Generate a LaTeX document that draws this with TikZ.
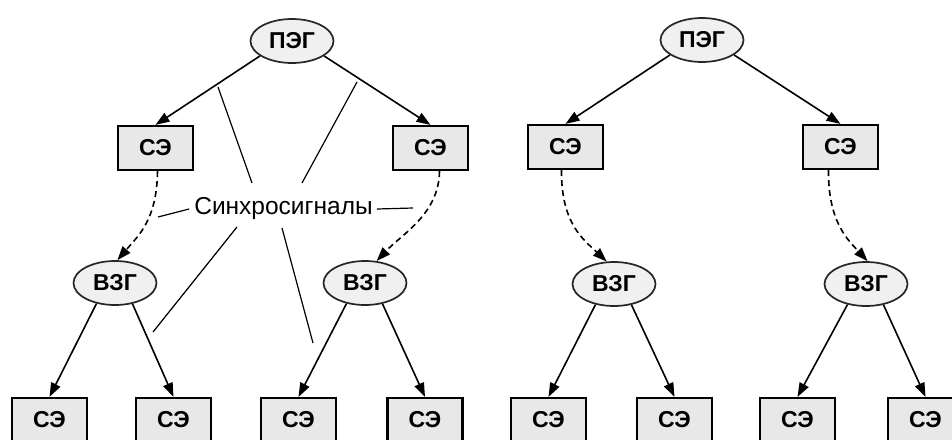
\documentclass[tikz,border=0pt]{standalone}
\usepackage{fontspec}
\setmainfont{Liberation Sans}
\usetikzlibrary{arrows.meta,shapes.geometric}
\begin{document}
\begin{tikzpicture}[x=1pt,y=-1pt,
  box/.style={draw=black, line width=2.2pt, fill=black!9, minimum width=75pt, minimum height=44pt, inner sep=0pt,
    font=\fontsize{23}{28}\selectfont\bfseries},
  gen/.style={ellipse, draw=black!85, line width=1.7pt, fill=black!6, minimum width=83pt, minimum height=44pt, inner sep=0pt,
    font=\fontsize{23}{28}\selectfont\bfseries},
  arr/.style={line width=1.6pt, -{Triangle[length=14pt,width=10pt]}},
  syncarr/.style={arr, dash pattern=on 6pt off 4pt},
  ptr/.style={line width=1.2pt},
  lbl/.style={font=\fontsize{24.5}{28}\selectfont, inner sep=0pt}]
\useasboundingbox (0,0) rectangle (952,439);
\clip (0,0) rectangle (952,439);
\fill[white] (0,0) rectangle (952,439);

% ---------- left diagram ----------
\node[gen] (pA) at (292,41) {ПЭГ};
\node[box] (sA1) at (155.5,148) {СЭ};
\node[box] (sA2) at (430.5,148) {СЭ};
\node[gen] (vA1) at (115,283) {ВЗГ};
\node[gen] (vA2) at (365,283) {ВЗГ};
\node[box] (bA1) at (49.5,420) {СЭ};
\node[box] (bA2) at (173.5,420) {СЭ};
\node[box] (bA3) at (298.5,420) {СЭ};
\node[box] (bA4) at (425,420) {СЭ};
\node[lbl] (sync) at (283.5,208) {Синхросигналы};

\draw[arr] (pA.205) -- (sA1.north);
\draw[arr] (pA.335) -- (sA2.north);
\draw[arr] (vA1.228) -- (bA1.north);
\draw[arr] (vA1.310) -- (bA2.north);
\draw[arr] (vA2.228) -- (bA3.north);
\draw[arr] (vA2.310) -- (bA4.north);
\draw[syncarr] ([xshift=2pt]sA1.south) .. controls (157,220) and (138,236) .. (vA1.84);
\draw[syncarr] ([xshift=9pt]sA2.south) .. controls (439,214) and (402,234) .. (vA2.62);

% pointer lines of the label
\coordinate (q1) at (218,87);
\coordinate (q2) at (357,82);
\coordinate (q3) at (153,332);
\coordinate (q4) at (313,343);
\coordinate (q5) at (158,217);
\coordinate (q6) at (413,208);
\draw[ptr] (252,183) coordinate (r1) -- (q1);
\draw[ptr] (302,183) coordinate (r2) -- (q2);
\draw[ptr] (237,227) coordinate (r3) -- (q3);
\draw[ptr] (282,228) coordinate (r4) -- (q4);
\draw[ptr] ([xshift=-5pt,yshift=-1pt]sync.west) -- (q5);
\draw[ptr] ([xshift=4pt,yshift=-1pt]sync.east) -- (q6);

% ---------- right diagram ----------
\node[gen] (pB) at (702,40) {ПЭГ};
\node[box] (sB1) at (565.5,147) {СЭ};
\node[box] (sB2) at (840.5,147) {СЭ};
\node[gen] (vB1) at (614,284) {ВЗГ};
\node[gen] (vB2) at (866,284) {ВЗГ};
\node[box] (bB1) at (548.5,420) {СЭ};
\node[box] (bB2) at (674.5,420) {СЭ};
\node[box] (bB3) at (797.5,420) {СЭ};
\node[box] (bB4) at (925.5,420) {СЭ};

\draw[arr] (pB.205) -- (sB1.north);
\draw[arr] (pB.335) -- (sB2.north);
\draw[arr] (vB1.228) -- (bB1.north);
\draw[arr] (vB1.310) -- (bB2.north);
\draw[arr] (vB2.228) -- (bB3.north);
\draw[arr] (vB2.310) -- (bB4.north);
\draw[syncarr] ([xshift=-4pt]sB1.south) .. controls (561,224) and (584,240) .. (vB1.108);
\draw[syncarr] ([xshift=-12pt]sB2.south) .. controls (828,222) and (848,240) .. (vB2.86);
\end{tikzpicture}
\end{document}
